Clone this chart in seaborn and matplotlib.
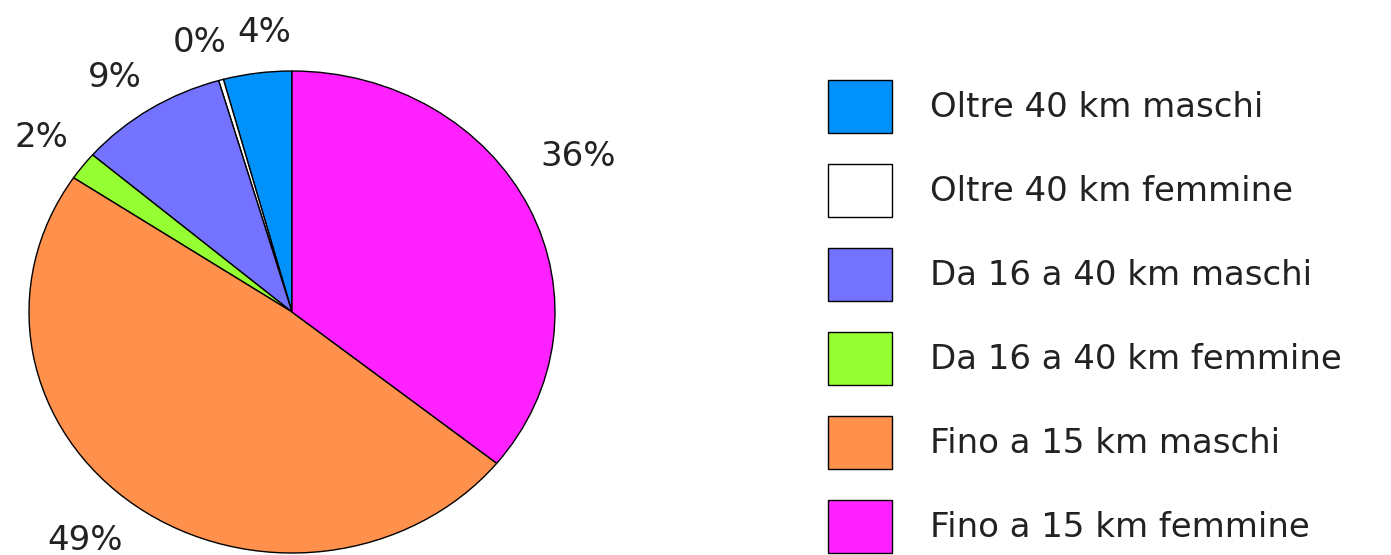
import matplotlib
matplotlib.use("Agg")
import matplotlib.pyplot as plt
import seaborn as sns

categories = ["Oltre 40 km maschi", "Oltre 40 km femmine", "Da 16 a 40 km maschi",
              "Da 16 a 40 km femmine", "Fino a 15 km maschi", "Fino a 15 km femmine"]
values = [4.2, 0.3, 9.2, 1.9, 48.6, 35.8]
pct_labels = ["4%", "0%", "9%", "2%", "49%", "36%"]
colors = ["#0091FA", "#FFFFFF", "#7373FF", "#95FF33", "#FF914D", "#FF21FF"]

sns.set_theme(style="white")
plt.rcParams['font.family'] = ['DejaVu Sans']

W, H = 1391, 555
FS = 24.5
fig = plt.figure(figsize=(W / 100, H / 100), dpi=100)
fig.patch.set_facecolor("white")

# pie axes (elliptical pie, bottom clipped by the figure edge)
ax = fig.add_axes([29 / W, (H - 553) / H, 526 / W, 482 / H])
wedges, texts = ax.pie(values, colors=colors, startangle=90, counterclock=True,
                       labels=pct_labels, labeldistance=1.2,
                       wedgeprops=dict(edgecolor="black", linewidth=1.0),
                       textprops=dict(fontsize=FS, color="#222222"))
ax.set_aspect("auto")
ax.set_xlim(-1, 1)
ax.set_ylim(-1, 1)
ax.axis("off")

# label placement (axes data units, as in the reference)
label_pos = [(-0.105, 1.16), (-0.35, 1.12), (-0.673, 0.975),
             (-0.951, 0.725), (-0.787, -0.95), (1.087, 0.645)]
for t, (x, y) in zip(texts, label_pos):
    t.set_position((x, y))
    t.set_ha("center")
    t.set_va("center")
    t.set_clip_on(False)

px = FS * 100 / 72
fig.legend(wedges, categories, loc="upper left",
           bbox_to_anchor=(828 / W, 1 - 80 / H), frameon=False,
           fontsize=FS, handlelength=64 / px, handleheight=1.25 * 55 / px,
           labelspacing=31 / px, handletextpad=38 / px, borderpad=0,
           borderaxespad=0, labelcolor="#222222")

fig.savefig("out.png", dpi=100)
